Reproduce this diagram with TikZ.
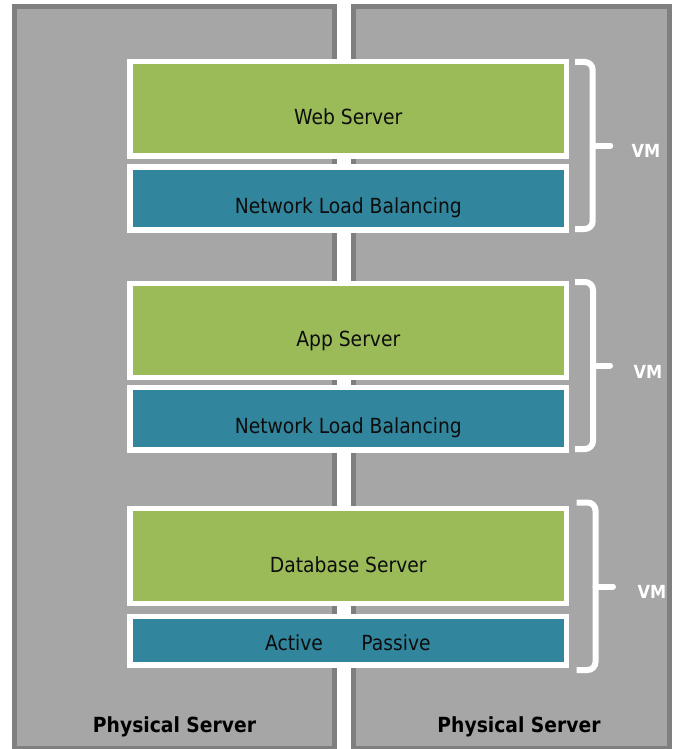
\documentclass[tikz,border=0pt]{standalone}
\usepackage{fontspec}
\setmainfont{DejaVu Sans}[FakeStretch=0.9]
\usetikzlibrary{calc}
\definecolor{srvgreen}{HTML}{9BBB59}
\definecolor{srvblue}{HTML}{31859C}
\definecolor{panelfill}{HTML}{A6A6A6}
\definecolor{panelborder}{HTML}{7F7F7F}
\definecolor{textdark}{HTML}{0D0D0D}
\begin{document}
\begin{tikzpicture}[x=1pt,y=-1pt,
  panel/.style={rectangle, fill=panelfill, draw=panelborder, line width=5.3pt, inner sep=0pt},
  box/.style={rectangle, draw=white, line width=5.3pt, inner sep=0pt, minimum width=436.7pt},
  greenbox/.style={box, fill=srvgreen},
  bluebox/.style={box, fill=srvblue},
  txt/.style={anchor=base, inner sep=0pt, text=textdark, font=\fontsize{20.8}{24}\selectfont},
  paneltxt/.style={anchor=base, inner sep=0pt, text=black, font=\bfseries\fontsize{20.8}{24}\selectfont},
  vmtxt/.style={anchor=base, inner sep=0pt, text=white, font=\bfseries\fontsize{18}{20}\selectfont},
  bracket/.style={draw=white, line width=6pt, rounded corners=8pt},
  brtip/.style={draw=white, line width=6pt, line cap=round}]
\useasboundingbox (0,0) rectangle (673,749);
\clip (0,0) rectangle (673,749);
\fill[white] (0,0) rectangle (673,749);
% physical servers
\node[panel, minimum width=320pt, minimum height=742.4pt] (lpanel) at (174.65,377.85) {};
\node[panel, minimum width=316pt, minimum height=742.4pt] (rpanel) at (511.35,377.85) {};
\node[paneltxt] (lptxt) at (174.5,732.3) {Physical Server};
\node[paneltxt] (rptxt) at (519,732.3) {Physical Server};
% VM 1
\node[greenbox, minimum height=94.4pt] (web) at (348.3,108.85) {};
\node[bluebox, minimum height=63.1pt] (nlb1) at (348.3,198.5) {};
\node[txt] (webt) at (348.3,124.3) {Web Server};
\node[txt] (nlb1t) at (348.3,213.3) {Network Load Balancing};
% VM 2
\node[greenbox, minimum height=94pt] (app) at (348.3,330.65) {};
\node[bluebox, minimum height=62.4pt] (nlb2) at (348.3,418.85) {};
\node[txt] (appt) at (348.3,346.5) {App Server};
\node[txt] (nlb2t) at (348.3,433.8) {Network Load Balancing};
% VM 3
\node[greenbox, minimum height=94.7pt] (db) at (348.3,556) {};
\node[bluebox, minimum height=48.4pt] (ap) at (348.3,640.85) {};
\node[txt] (dbt) at (348.3,572) {Database Server};
\node[txt] (actt) at (294,650) {Active};
\node[txt] (passt) at (396,650) {Passive};
% braces
\coordinate (b1t) at (575,62);
\coordinate (b1b) at (575,229);
\coordinate (b1m) at (592.7,145.5);
\coordinate (b1e) at (610.3,145.5);
\draw[bracket] (b1t) -- (592.7,62) -- (592.7,229) -- (b1b);
\draw[brtip] (b1m) -- (b1e);
\node[vmtxt] (vm1) at (646,157.3) {VM};
\coordinate (b2t) at (575,282);
\coordinate (b2b) at (575,449);
\coordinate (b2m) at (593,365.5);
\coordinate (b2e) at (610,365.5);
\draw[bracket] (b2t) -- (593,282) -- (593,449) -- (b2b);
\draw[brtip] (b2m) -- (b2e);
\node[vmtxt] (vm2) at (648,378.3) {VM};
\coordinate (b3t) at (576.7,502.5);
\coordinate (b3b) at (576.7,670);
\coordinate (b3m) at (595.5,586.5);
\coordinate (b3e) at (613,586.5);
\draw[bracket] (b3t) -- (595.5,502.5) -- (595.5,670) -- (b3b);
\draw[brtip] (b3m) -- (b3e);
\node[vmtxt] (vm3) at (652,598.3) {VM};
\end{tikzpicture}
\end{document}
